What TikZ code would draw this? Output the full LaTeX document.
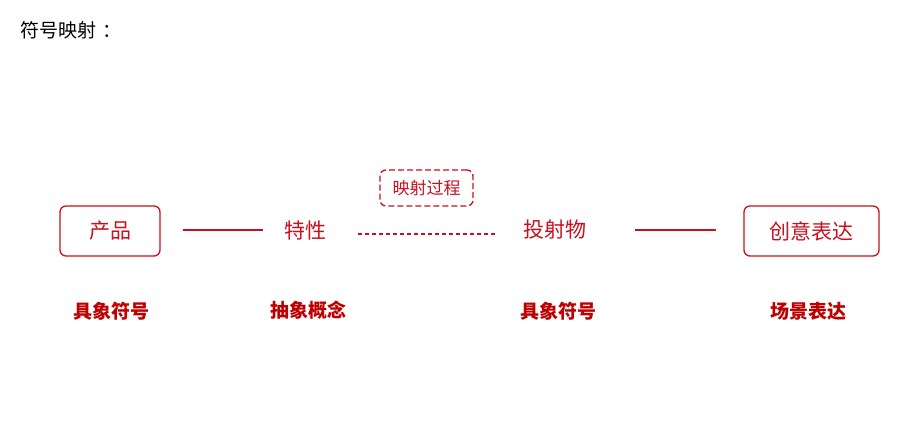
\documentclass[tikz,border=0pt]{standalone}
\usepackage{fontspec}
\setmainfont{Noto Sans CJK SC}
\newfontfamily\cjk{Noto Sans CJK SC}
\definecolor{myred}{HTML}{C8101E}
\definecolor{darkred}{HTML}{C00000}
\tikzset{
  box/.style={draw=myred, line width=1.3pt, rounded corners=6pt, text=myred},
  plain/.style={text=myred, inner sep=0pt},
  lbl/.style={text=darkred, font=\cjk\bfseries\fontsize{19}{22}\selectfont, inner sep=0pt},
  conn/.style={draw=myred, line width=1.2pt},
}
\begin{document}
\begin{tikzpicture}[x=1pt,y=-1pt]
\useasboundingbox[fill=white] (0,0) rectangle (918,440);
\node[anchor=west, inner sep=0pt, font=\cjk\fontsize{19}{22}\selectfont] (title) at (20,30) {符号映射\kern6pt：};
\node[box, minimum width=100pt, minimum height=50pt, font=\cjk\fontsize{21}{24}\selectfont] (prod) at (110,231) {产品};
\node[plain, font=\cjk\fontsize{21}{24}\selectfont] (feat) at (305,231) {特性};
\node[plain, font=\cjk\fontsize{21}{24}\selectfont] (proj) at (555,230) {投射物};
\node[box, minimum width=135pt, minimum height=50pt, font=\cjk\fontsize{21}{24}\selectfont] (idea) at (811.5,231) {创意表达};
\node[box, dashed, dash pattern=on 6pt off 3pt, minimum width=93pt, minimum height=36pt, font=\cjk\fontsize{17}{20}\selectfont] (map) at (426.5,188) {映射过程};
\coordinate (a1) at (183,230); \coordinate (a2) at (263,230);
\coordinate (b1) at (358,234); \coordinate (b2) at (495,234);
\coordinate (c1) at (635,230); \coordinate (c2) at (716,230);
\draw[conn] (a1) -- (a2);
\draw[conn, line width=1.3pt, dash pattern=on 4pt off 3pt] (b1) -- (b2);
\draw[conn] (c1) -- (c2);
\node[lbl] (l1) at (111,311) {具象符号};
\node[lbl] (l2) at (308,310) {抽象概念};
\node[lbl] (l3) at (558,311) {具象符号};
\node[lbl] (l4) at (808,311) {场景表达};
\end{tikzpicture}
\end{document}
